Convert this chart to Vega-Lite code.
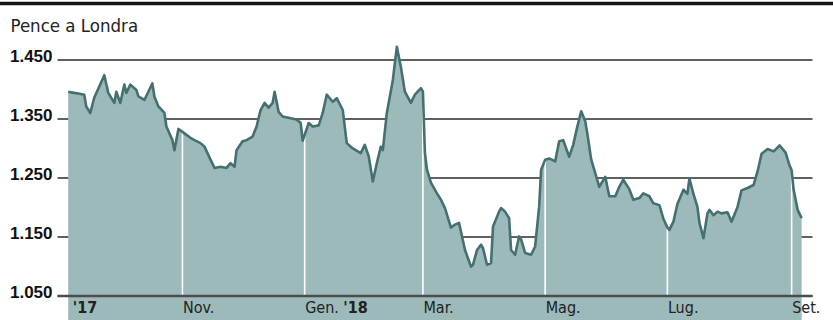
{
  "$schema": "https://vega.github.io/schema/vega-lite/v6.json",
  "width": 755,
  "height": 254,
  "autosize": {"type": "none"},
  "padding": {"left": 57, "top": 41.5, "right": 21, "bottom": 24.5},
  "background": "#ffffff",
  "config": {"view": {"stroke": null}},
  "data": {
    "format": {"parse": {"date": "date"}},
    "values": [
      {"date": "2017/09/05", "price": 1395}, {"date": "2017/09/08", "price": 1393}, {"date": "2017/09/10", "price": 1392},
      {"date": "2017/09/13", "price": 1390}, {"date": "2017/09/14", "price": 1370}, {"date": "2017/09/16", "price": 1359},
      {"date": "2017/09/18", "price": 1385}, {"date": "2017/09/20", "price": 1400}, {"date": "2017/09/23", "price": 1423},
      {"date": "2017/09/25", "price": 1393}, {"date": "2017/09/28", "price": 1376}, {"date": "2017/09/29", "price": 1395},
      {"date": "2017/10/01", "price": 1376}, {"date": "2017/10/03", "price": 1407}, {"date": "2017/10/04", "price": 1393},
      {"date": "2017/10/06", "price": 1407}, {"date": "2017/10/09", "price": 1398}, {"date": "2017/10/10", "price": 1387},
      {"date": "2017/10/13", "price": 1381}, {"date": "2017/10/15", "price": 1395}, {"date": "2017/10/17", "price": 1409},
      {"date": "2017/10/18", "price": 1387}, {"date": "2017/10/20", "price": 1370}, {"date": "2017/10/23", "price": 1359},
      {"date": "2017/10/24", "price": 1336}, {"date": "2017/10/27", "price": 1313}, {"date": "2017/10/28", "price": 1296},
      {"date": "2017/10/30", "price": 1332},
      {"date": "2017/11/01", "price": 1327}, {"date": "2017/11/03", "price": 1322}, {"date": "2017/11/05", "price": 1317},
      {"date": "2017/11/07", "price": 1313}, {"date": "2017/11/10", "price": 1308}, {"date": "2017/11/12", "price": 1302},
      {"date": "2017/11/15", "price": 1280}, {"date": "2017/11/17", "price": 1266}, {"date": "2017/11/20", "price": 1268},
      {"date": "2017/11/23", "price": 1266}, {"date": "2017/11/25", "price": 1274}, {"date": "2017/11/27", "price": 1268},
      {"date": "2017/11/28", "price": 1296},
      {"date": "2017/12/01", "price": 1311}, {"date": "2017/12/03", "price": 1313}, {"date": "2017/12/06", "price": 1319},
      {"date": "2017/12/08", "price": 1336}, {"date": "2017/12/10", "price": 1364}, {"date": "2017/12/12", "price": 1376},
      {"date": "2017/12/14", "price": 1368}, {"date": "2017/12/16", "price": 1376}, {"date": "2017/12/17", "price": 1395},
      {"date": "2017/12/19", "price": 1361}, {"date": "2017/12/21", "price": 1353}, {"date": "2017/12/25", "price": 1350},
      {"date": "2017/12/28", "price": 1348}, {"date": "2017/12/30", "price": 1342}, {"date": "2017/12/31", "price": 1312},
      {"date": "2018/01/01", "price": 1322}, {"date": "2018/01/03", "price": 1342}, {"date": "2018/01/05", "price": 1336},
      {"date": "2018/01/08", "price": 1338}, {"date": "2018/01/10", "price": 1359}, {"date": "2018/01/12", "price": 1390},
      {"date": "2018/01/15", "price": 1378}, {"date": "2018/01/17", "price": 1384}, {"date": "2018/01/20", "price": 1364},
      {"date": "2018/01/22", "price": 1308}, {"date": "2018/01/25", "price": 1299}, {"date": "2018/01/29", "price": 1291},
      {"date": "2018/01/31", "price": 1305},
      {"date": "2018/02/02", "price": 1285}, {"date": "2018/02/04", "price": 1243}, {"date": "2018/02/06", "price": 1274},
      {"date": "2018/02/08", "price": 1302}, {"date": "2018/02/09", "price": 1296}, {"date": "2018/02/11", "price": 1359},
      {"date": "2018/02/14", "price": 1415}, {"date": "2018/02/16", "price": 1471}, {"date": "2018/02/18", "price": 1437},
      {"date": "2018/02/20", "price": 1395}, {"date": "2018/02/23", "price": 1376}, {"date": "2018/02/25", "price": 1390},
      {"date": "2018/02/28", "price": 1401},
      {"date": "2018/03/01", "price": 1395}, {"date": "2018/03/02", "price": 1292}, {"date": "2018/03/03", "price": 1263},
      {"date": "2018/03/05", "price": 1241}, {"date": "2018/03/08", "price": 1223}, {"date": "2018/03/10", "price": 1212},
      {"date": "2018/03/12", "price": 1198}, {"date": "2018/03/15", "price": 1165}, {"date": "2018/03/17", "price": 1170},
      {"date": "2018/03/19", "price": 1173}, {"date": "2018/03/20", "price": 1158}, {"date": "2018/03/22", "price": 1127},
      {"date": "2018/03/25", "price": 1099}, {"date": "2018/03/26", "price": 1102}, {"date": "2018/03/28", "price": 1127},
      {"date": "2018/03/30", "price": 1136}, {"date": "2018/03/31", "price": 1130},
      {"date": "2018/04/02", "price": 1102}, {"date": "2018/04/04", "price": 1105}, {"date": "2018/04/05", "price": 1167},
      {"date": "2018/04/08", "price": 1192}, {"date": "2018/04/09", "price": 1198}, {"date": "2018/04/11", "price": 1192},
      {"date": "2018/04/13", "price": 1181}, {"date": "2018/04/14", "price": 1127}, {"date": "2018/04/16", "price": 1119},
      {"date": "2018/04/18", "price": 1150}, {"date": "2018/04/19", "price": 1145}, {"date": "2018/04/21", "price": 1122},
      {"date": "2018/04/24", "price": 1119}, {"date": "2018/04/26", "price": 1133}, {"date": "2018/04/28", "price": 1200},
      {"date": "2018/04/29", "price": 1263},
      {"date": "2018/05/01", "price": 1280}, {"date": "2018/05/03", "price": 1282}, {"date": "2018/05/06", "price": 1277},
      {"date": "2018/05/08", "price": 1311}, {"date": "2018/05/10", "price": 1313}, {"date": "2018/05/13", "price": 1285},
      {"date": "2018/05/15", "price": 1305}, {"date": "2018/05/17", "price": 1335}, {"date": "2018/05/19", "price": 1362},
      {"date": "2018/05/21", "price": 1345}, {"date": "2018/05/22", "price": 1325}, {"date": "2018/05/24", "price": 1280},
      {"date": "2018/05/26", "price": 1257}, {"date": "2018/05/28", "price": 1234}, {"date": "2018/05/31", "price": 1251},
      {"date": "2018/06/02", "price": 1218}, {"date": "2018/06/05", "price": 1218}, {"date": "2018/06/07", "price": 1234},
      {"date": "2018/06/09", "price": 1246}, {"date": "2018/06/12", "price": 1230}, {"date": "2018/06/14", "price": 1212},
      {"date": "2018/06/17", "price": 1215}, {"date": "2018/06/19", "price": 1223}, {"date": "2018/06/22", "price": 1218},
      {"date": "2018/06/24", "price": 1206}, {"date": "2018/06/27", "price": 1203}, {"date": "2018/06/29", "price": 1180},
      {"date": "2018/07/01", "price": 1165}, {"date": "2018/07/02", "price": 1161}, {"date": "2018/07/04", "price": 1175},
      {"date": "2018/07/06", "price": 1205}, {"date": "2018/07/09", "price": 1229}, {"date": "2018/07/11", "price": 1222},
      {"date": "2018/07/12", "price": 1248}, {"date": "2018/07/14", "price": 1222}, {"date": "2018/07/16", "price": 1200},
      {"date": "2018/07/17", "price": 1173}, {"date": "2018/07/19", "price": 1147}, {"date": "2018/07/21", "price": 1189},
      {"date": "2018/07/22", "price": 1195}, {"date": "2018/07/24", "price": 1186}, {"date": "2018/07/26", "price": 1192},
      {"date": "2018/07/28", "price": 1189}, {"date": "2018/07/31", "price": 1191},
      {"date": "2018/08/02", "price": 1175}, {"date": "2018/08/05", "price": 1200}, {"date": "2018/08/07", "price": 1228},
      {"date": "2018/08/10", "price": 1232}, {"date": "2018/08/13", "price": 1237}, {"date": "2018/08/15", "price": 1260},
      {"date": "2018/08/17", "price": 1290}, {"date": "2018/08/20", "price": 1298}, {"date": "2018/08/23", "price": 1294},
      {"date": "2018/08/26", "price": 1304}, {"date": "2018/08/29", "price": 1292}, {"date": "2018/08/31", "price": 1270},
      {"date": "2018/09/01", "price": 1262}, {"date": "2018/09/02", "price": 1229}, {"date": "2018/09/04", "price": 1195},
      {"date": "2018/09/06", "price": 1181}
    ]
  },
  "encoding": {
    "x": {
      "field": "date",
      "type": "temporal",
      "scale": {
        "domain": [
          {"year": 2017, "month": 8, "date": 30, "hours": 9, "minutes": 38},
          {"year": 2018, "month": 9, "date": 11, "hours": 4}
        ]
      },
      "axis": {
        "values": [
          {"year": 2017, "month": 9, "date": 7},
          {"year": 2017, "month": 11, "date": 1},
          {"year": 2018, "month": 1, "date": 1},
          {"year": 2018, "month": 1, "date": 20},
          {"year": 2018, "month": 3, "date": 1},
          {"year": 2018, "month": 5, "date": 1},
          {"year": 2018, "month": 7, "date": 1},
          {"year": 2018, "month": 9, "date": 1}
        ],
        "labelExpr": "(month(datum.value) == 8 && year(datum.value) == 2017) ? \"'17\" : month(datum.value) == 10 ? 'Nov.' : (month(datum.value) == 0 && date(datum.value) == 1) ? 'Gen.' : month(datum.value) == 0 ? \"'18\" : month(datum.value) == 2 ? 'Mar.' : month(datum.value) == 4 ? 'Mag.' : month(datum.value) == 6 ? 'Lug.' : 'Set.'",
        "labelFontWeight": {
          "condition": {"test": "(month(datum.value) == 8 && year(datum.value) == 2017) || (month(datum.value) == 0 && date(datum.value) > 1)", "value": "bold"},
          "value": "normal"
        },
        "title": null,
        "ticks": false,
        "grid": false,
        "domain": true,
        "domainColor": "#4d4d4d",
        "domainWidth": 2.4,
        "labelAlign": "left",
        "labelBaseline": "top",
        "labelPadding": 4,
        "labelFont": "DejaVu Sans Condensed, Liberation Sans",
        "labelFontSize": 16,
        "labelColor": "#222222",
        "labelOverlap": false,
        "labelBound": false,
        "labelFlush": false,
        "zindex": 1
      }
    },
    "y": {
      "field": "price",
      "type": "quantitative",
      "scale": {"domain": [1050, 1480], "zero": false, "nice": false},
      "axis": {
        "values": [1050, 1150, 1250, 1350, 1450],
        "labelExpr": "replace(format(datum.value, ','), ',', '.')",
        "ticks": false,
        "domain": false,
        "grid": true,
        "gridColor": "#2b2b2b",
        "gridWidth": 1.4,
        "labelFont": "Liberation Sans",
        "labelFontWeight": "bold",
        "labelFontSize": 17,
        "labelColor": "#111111",
        "labelPadding": 5,
        "labelBaseline": "alphabetic",
        "labelOffset": 2,
        "title": "Pence a Londra",
        "titleAngle": 0,
        "titleX": -47,
        "titleY": -9.8,
        "titleAlign": "left",
        "titleBaseline": "alphabetic",
        "titleFont": "DejaVu Sans Condensed, Liberation Sans",
        "titleFontSize": 18.5,
        "titleFontWeight": "normal",
        "titleColor": "#222222"
      }
    }
  },
  "layer": [
    {"mark": {"type": "area", "color": "#9cbab9"}},
    {
      "transform": [{"filter": "date(datum.date) == 1 && month(datum.date) % 2 == 0"}],
      "mark": {"type": "rule", "color": "#ffffff", "strokeWidth": 1.6},
      "encoding": {"y2": {"datum": 1050}}
    },
    {"mark": {"type": "line", "color": "#46706f", "strokeWidth": 2.6, "strokeJoin": "round"}},
    {
      "data": {"values": [{"from": "2017/06/01", "to": "2018/12/31", "level": 1544.5}]},
      "mark": {"type": "rule", "color": "#161616", "strokeWidth": 3.5, "clip": false},
      "encoding": {
        "x": {"field": "from", "type": "temporal"},
        "x2": {"field": "to"},
        "y": {"field": "level", "type": "quantitative"}
      }
    }
  ]
}
